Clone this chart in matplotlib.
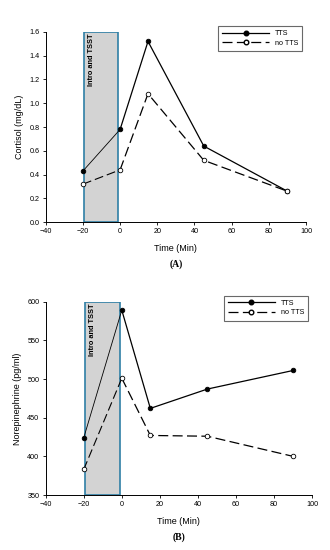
import matplotlib
matplotlib.use('Agg')
import matplotlib.pyplot as plt
from matplotlib.patches import Rectangle

# Time points (min)
time = [-20, 0, 15, 45, 90]

# Panel A: cortisol (mg/dL)
cortisol_tts = [0.43, 0.78, 1.52, 0.64, 0.26]
cortisol_no_tts = [0.32, 0.44, 1.08, 0.52, 0.26]

# Panel B: norepinephrine (pg/ml)
norepi_tts = [424, 589, 462, 487, 511]
norepi_no_tts = [383, 501, 427, 426, 400]

# Intro/TSST period
stress_start, stress_end = -19.5, -1.2

plt.rcParams['font.family'] = ['Liberation Sans', 'DejaVu Sans']

fig = plt.figure(figsize=(3.3, 5.5), dpi=100)
ax_a = fig.add_axes([0.1385, 0.596, 0.789, 0.346])
ax_b = fig.add_axes([0.1385, 0.100, 0.807, 0.3515])

DASH = (8, 3.5)


def draw_panel(ax, tts, no_tts, ylim, yticks, yfmt, ylabel, tag, text_y):
    # grey block for the stress period
    ax.add_patch(Rectangle((stress_start, ylim[0]), stress_end - stress_start,
                           ylim[1] - ylim[0], facecolor='#d3d3d3',
                           edgecolor='#2f7fa6', linewidth=1.2, zorder=1))
    ax.text(stress_start + 2.0, text_y, 'Intro and TSST', rotation=90,
            ha='left', va='top', fontsize=5.3, fontweight='bold', zorder=2)

    # first segment (inside the block) is thinner
    ax.plot(time[:2], tts[:2], color='black', lw=0.6, zorder=3)
    ax.plot(time[:2], no_tts[:2], color='black', lw=0.8, dashes=DASH, zorder=3)
    ax.plot(time[1:], tts[1:], color='black', lw=0.9, zorder=3)
    ax.plot(time[1:], no_tts[1:], color='black', lw=0.9, dashes=DASH, zorder=3)
    ax.plot(time, tts, ls='none', marker='o', ms=3.3, mfc='black', mec='black',
            mew=0.6, zorder=4)
    ax.plot(time, no_tts, ls='none', marker='o', ms=3.3, mfc='white', mec='black',
            mew=0.6, zorder=4)

    # legend handles
    h1, = ax.plot([], [], color='black', lw=0.9, marker='o', ms=3.3, mfc='black',
                  mec='black', label='TTS')
    h2, = ax.plot([], [], color='black', lw=0.9, dashes=DASH, marker='o', ms=3.3,
                  mfc='white', mec='black', label='no TTS')
    leg = ax.legend(handles=[h1, h2], loc='upper right', fontsize=5.2,
                    frameon=True, fancybox=False, edgecolor='#444444',
                    handlelength=6.5, borderpad=0.6, labelspacing=0.3,
                    bbox_to_anchor=(1.0, 1.05))
    leg.get_frame().set_linewidth(0.8)

    ax.set_xlim(-40, 100)
    ax.set_xticks(range(-40, 101, 20))
    ax.set_ylim(*ylim)
    ax.set_yticks(yticks)
    ax.set_yticklabels([yfmt.format(v) for v in yticks])
    ax.spines['top'].set_visible(False)
    ax.spines['right'].set_visible(False)
    for s in ('left', 'bottom'):
        ax.spines[s].set_linewidth(0.7)
    ax.tick_params(labelsize=5.2, width=0.6, length=2.5, direction='out', pad=2)
    ax.set_xlabel('Time (Min)', fontsize=6.5, labelpad=6)
    ax.set_ylabel(ylabel, fontsize=6.5, labelpad=4)
    ax.text(0.5, -0.195, tag, transform=ax.transAxes, ha='center', va='top',
            fontsize=7, fontweight='bold', family='Liberation Serif')


draw_panel(ax_a, cortisol_tts, cortisol_no_tts, (0, 1.6),
           [0, 0.2, 0.4, 0.6, 0.8, 1.0, 1.2, 1.4, 1.6], '{:.1f}',
           'Cortisol (mg/dL)', '(A)', 1.59)
draw_panel(ax_b, norepi_tts, norepi_no_tts, (350, 600),
           [350, 400, 450, 500, 550, 600], '{:.0f}',
           'Norepinephrine (pg/ml)', '(B)', 597)

fig.savefig('out.png', dpi=100)
